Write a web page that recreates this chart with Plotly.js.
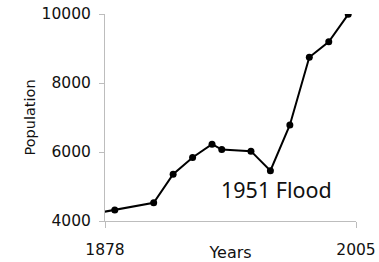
<!DOCTYPE html>
<html>
<head>
<meta charset="utf-8">
<script src="https://cdn.plot.ly/plotly-3.0.1.min.js"></script>
<style>html,body{margin:0;padding:0;background:#fff;}#chart{width:379px;height:262px;}</style>
</head>
<body>
<div id="chart"></div>
<script>
// Data
var years = [1871, 1881, 1901, 1911, 1921, 1931, 1936, 1951, 1961, 1971, 1981, 1991, 2001];
var population = [4220, 4320, 4530, 5355, 5840, 6225, 6070, 6025, 5460, 6785, 8745, 9195, 9990];
var xTickVals = [1878, 2005];
var xTickText = ['1878', '2005'];
var yTickVals = [4000, 6000, 8000, 10000];
var yTickText = ['4000', '6000', '8000', '10000'];
var annotationText = "1951 Flood";
var annotationX = 1965;
var annotationY = 4900;

var W = 379, H = 262;
var L = 101, R = 23, T = 14, B = 41;
var plotW = W - L - R;
var axisStartPx = 4; // main axis begins 4px right of the trace area
var pxPerYear = (plotW - axisStartPx) / (2005 - 1878);

var gray = '#bdbdbd';
var tickFont = {family: 'DejaVu Sans, Verdana, sans-serif', size: 15.5, color: '#111'};

var trace = {
  x: years,
  y: population,
  xaxis: 'x2',
  yaxis: 'y',
  type: 'scatter',
  mode: 'lines+markers',
  line: {color: '#000', width: 2},
  marker: {color: '#000', size: 7},
  hoverinfo: 'skip'
};

var layout = {
  width: W, height: H,
  margin: {l: L, r: R, t: T, b: B, pad: 0},
  paper_bgcolor: '#fff', plot_bgcolor: 'rgba(0,0,0,0)',
  showlegend: false,
  xaxis: {
    domain: [axisStartPx / plotW, 1],
    range: [1878, 2005],
    tickmode: 'array',
    tickvals: xTickVals,
    ticktext: xTickText,
    ticks: 'outside', ticklen: 6, tickcolor: gray, tickwidth: 1,
    showline: true, linecolor: gray, linewidth: 1,
    showgrid: false, zeroline: false,
    tickfont: tickFont,
    ticklabelstandoff: 8,
    anchor: 'y',
    automargin: false,
    title: {text: 'Years', font: {family: 'DejaVu Sans, Verdana, sans-serif', size: 16, color: '#111'}, standoff: 6}
  },
  xaxis2: {
    domain: [0, 1],
    range: [1878 - axisStartPx / pxPerYear, 2005],
    visible: false,
    anchor: 'y',
    overlaying: 'x'
  },
  yaxis: {
    range: [4000, 10000],
    tickmode: 'array',
    tickvals: yTickVals,
    ticktext: yTickText,
    ticks: 'outside', ticklen: 5, tickcolor: gray, tickwidth: 1,
    showline: true, linecolor: gray, linewidth: 1,
    showgrid: false, zeroline: false,
    tickfont: tickFont,
    ticklabelstandoff: 5,
    anchor: 'x',
    automargin: false,
    title: {text: 'Population', font: {family: 'DejaVu Sans, Verdana, sans-serif', size: 14.5, color: '#111'}, standoff: 2}
  },
  annotations: [{
    text: annotationText,
    xref: 'x', yref: 'y',
    x: annotationX, y: annotationY,
    showarrow: false,
    font: {family: 'Noto Sans, Open Sans, sans-serif', size: 21.5, color: '#111'}
  }]
};

Plotly.newPlot('chart', [trace], layout, {displayModeBar: false, staticPlot: true});
</script>
</body>
</html>
